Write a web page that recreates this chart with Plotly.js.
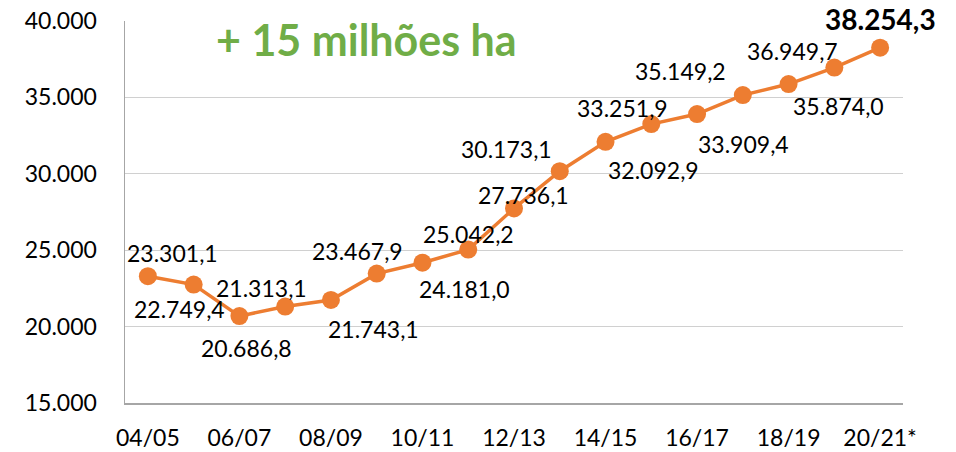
<!DOCTYPE html>
<html>
<head>
<meta charset="utf-8">
<script src="https://cdn.plot.ly/plotly-3.0.1.min.js"></script>
<style>
  html, body { margin: 0; padding: 0; background: #fff; }
  #chart { width: 956px; height: 452px; }
</style>
</head>
<body>
<div id="chart"></div>
<script>
// Categories (crop seasons)
const seasons = ["04/05","05/06","06/07","07/08","08/09","09/10","10/11","11/12","12/13","13/14","14/15","15/16","16/17","17/18","18/19","19/20","20/21*"];
// Planted area (mil ha)
const area = [23301.1, 22749.4, 20686.8, 21313.1, 21743.1, 23467.9, 24181.0, 25042.2, 27736.1, 30173.1, 32092.9, 33251.9, 33909.4, 35149.2, 35874.0, 36949.7, 38254.3];
// Tick labels shown on x axis
const xTicks = ["04/05","06/07","08/09","10/11","12/13","14/15","16/17","18/19","20/21*"];
// Y axis ticks
const yTicks = [15000, 20000, 25000, 30000, 35000, 40000];
// Headline text
const headline = "+ 15 milhões ha";

// Label offsets (pixels) relative to each point: [dx, dy] (dy positive = down)
const labelOffsets = [[25,-23],[-14,24],[7,32],[-24,-19],[43,29],[-19,-23],[42,26],[0,-16],[9,-13],[-53,-22],[48,28],[-29,-16],[46,30],[-62,-24],[50,22],[-42,-17],[0,-29]];

function fmtBR(v) {
  const parts = v.toFixed(1).split(".");
  const intPart = parts[0].replace(/\B(?=(\d{3})+(?!\d))/g, ".");
  return intPart + "," + parts[1];
}

const FONT = "Lato, 'Open Sans', sans-serif";
const ORANGE = "#ED7D31";

const annotations = area.map((v, i) => {
  const last = i === area.length - 1;
  return {
    x: seasons[i], y: v, xref: "x", yref: "y",
    text: last ? "<b>" + fmtBR(v) + "</b>" : fmtBR(v),
    showarrow: false,
    xanchor: "center", yanchor: "middle",
    xshift: labelOffsets[i][0], yshift: -labelOffsets[i][1],
    font: { family: FONT, size: last ? 28 : 23, color: "#000000" }
  };
});

annotations.push({
  xref: "paper", yref: "paper", x: 0.31, y: 0.952,
  xanchor: "center", yanchor: "middle",
  text: "<b>" + headline + "</b>", showarrow: false,
  font: { family: FONT, size: 43, color: "#70AD47" }
});

const trace = {
  type: "scatter", mode: "lines+markers",
  x: seasons, y: area,
  line: { color: ORANGE, width: 3.5 },
  marker: { color: ORANGE, size: 18 },
  cliponaxis: false,
  hoverinfo: "skip"
};

const layout = {
  width: 956, height: 452,
  margin: { l: 125, r: 53, t: 21, b: 49 },
  paper_bgcolor: "#ffffff", plot_bgcolor: "#ffffff",
  separators: ",.",
  showlegend: false,
  font: { family: FONT, size: 22, color: "#000000" },
  xaxis: {
    type: "category",
    range: [-0.5, seasons.length - 0.5],
    tickmode: "array", tickvals: xTicks, ticktext: xTicks,
    showgrid: false, zeroline: false,
    showline: true, linecolor: "#A6A6A6", linewidth: 1.5,
    ticks: "", ticklabelstandoff: 14,
    tickfont: { family: FONT, size: 23, color: "#000000" }
  },
  yaxis: {
    range: [15000, 40000],
    tickmode: "array", tickvals: yTicks,
    tickformat: ",.0f",
    showgrid: true, gridcolor: "#D0D0D0", gridwidth: 1.2,
    zeroline: false,
    showline: true, linecolor: "#A6A6A6", linewidth: 1.5,
    ticks: "", ticklabelstandoff: 22,
    tickfont: { family: FONT, size: 23, color: "#000000" }
  },
  annotations: annotations
};

Plotly.newPlot("chart", [trace], layout, { displayModeBar: false, staticPlot: true });
</script>
</body>
</html>
